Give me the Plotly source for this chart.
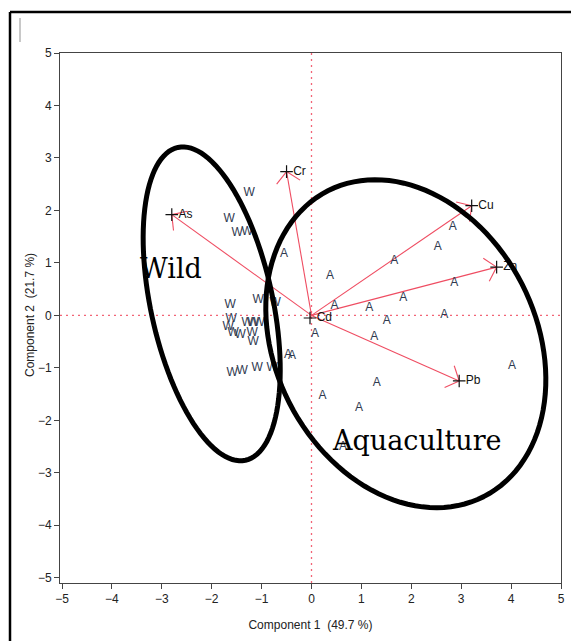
import numpy as np
import plotly.graph_objects as go

# ---------------- data ----------------
wild_pc1 = [-1.25, -1.65, -1.49, -1.29, -1.07, -0.73, -1.63, -1.61, -1.67, -1.57,
            -1.43, -1.29, -1.17, -1.05, -1.19, -1.17, -1.59, -1.39, -1.09, -0.79]
wild_pc2 = [2.34, 1.84, 1.57, 1.59, 0.30, 0.24, 0.20, -0.07, -0.22, -0.33,
            -0.37, -0.14, -0.14, -0.14, -0.33, -0.51, -1.10, -1.06, -1.00, -1.00]

aqua_pc1 = [2.83, 2.53, 1.66, 0.37, 2.86, 1.84, 0.46, 1.16, 2.66, 1.51,
            0.07, 1.26, 4.02, 1.31, 0.22, 0.95, -0.55, -0.47, -0.39, 0.63]
aqua_pc2 = [1.69, 1.31, 1.03, 0.75, 0.61, 0.33, 0.17, 0.14, 0.01, -0.10,
            -0.35, -0.42, -0.96, -1.28, -1.53, -1.77, 1.17, -0.75, -0.77, -2.51]

var_names = ["As", "Cr", "Cu", "Zn", "Pb", "Cd"]
load_pc1 = [-2.80, -0.50, 3.21, 3.71, 2.96, -0.03]
load_pc2 = [1.92, 2.74, 2.09, 0.92, -1.25, -0.05]

tick_vals = [-5, -4, -3, -2, -1, 0, 1, 2, 3, 4, 5]
x_title = "Component 1\u00a0 (49.7 %)"
y_title = "Component 2\u00a0 (21.7 %)"

# ---------------- layout geometry ----------------
# the page body has an 8px margin, so the figure is drawn 8px smaller
OFF = 8
WIN_W, WIN_H = 579, 641
W, H = WIN_W - OFF, WIN_H - OFF
PLOT_L, PLOT_R, PLOT_T, PLOT_B = 60, 561, 53, 583   # window pixels
ML, MR, MT, MB = PLOT_L - OFF, WIN_W - PLOT_R, PLOT_T - OFF, WIN_H - PLOT_B
XR = [-5.04, 5.0]
YR = [-5.1, 5.0]
PW, PH = PLOT_R - PLOT_L, PLOT_B - PLOT_T
SX = PW / (XR[1] - XR[0])
SY = PH / (YR[1] - YR[0])

RED = "#ef4d62"
DOT_RED = "#f26476"
LETTER = "#2f3a50"
FONT = "Liberation Sans, Arial, sans-serif"

fig = go.Figure()

# loading vectors
vx, vy = [], []
for x, y in zip(load_pc1, load_pc2):
    vx += [0, x, None]
    vy += [0, y, None]
fig.add_trace(go.Scatter(x=vx, y=vy, mode="lines", line=dict(color=RED, width=1.1),
                         hoverinfo="skip", showlegend=False))

# open V arrowheads, computed in pixel space
hx, hy = [], []
ARM, ANG = 16.0, np.radians(48)
for x, y in zip(load_pc1, load_pc2):
    px, py = x * SX, y * SY
    n = np.hypot(px, py)
    if n < 10:
        continue
    bx, by = -px / n, -py / n
    for s in (1, -1):
        c, si = np.cos(s * ANG), np.sin(s * ANG)
        ax_ = bx * c - by * si
        ay_ = bx * si + by * c
        hx += [x + ARM * ax_ / SX, x, None]
        hy += [y + ARM * ay_ / SY, y, None]
fig.add_trace(go.Scatter(x=hx, y=hy, mode="lines", line=dict(color=RED, width=1.1),
                         hoverinfo="skip", showlegend=False))

# sample scores as letters
fig.add_trace(go.Scatter(x=wild_pc1, y=wild_pc2, mode="text", text=["W"] * len(wild_pc1),
                         textfont=dict(family=FONT, size=12, color=LETTER),
                         textposition="middle center", name="Wild", showlegend=False))
fig.add_trace(go.Scatter(x=aqua_pc1, y=aqua_pc2, mode="text", text=["A"] * len(aqua_pc1),
                         textfont=dict(family=FONT, size=12, color=LETTER),
                         textposition="middle center", name="Aquaculture", showlegend=False))

# variable tips
fig.add_trace(go.Scatter(x=load_pc1, y=load_pc2, mode="markers+text", text=var_names,
                         textposition="middle right",
                         textfont=dict(family=FONT, size=12, color="#111"),
                         marker=dict(symbol="cross-thin", size=9,
                                     line=dict(color="#111", width=1.2)),
                         showlegend=False))

shapes = []
# dotted reference lines
shapes.append(dict(type="line", x0=0, x1=0, y0=YR[0], y1=YR[1], xref="x", yref="y",
                   line=dict(color=DOT_RED, width=1.3, dash="2px,4px"), layer="below"))
shapes.append(dict(type="line", x0=XR[0], x1=XR[1], y0=0, y1=0, xref="x", yref="y",
                   line=dict(color=DOT_RED, width=1.3, dash="2px,4px"), layer="below"))


def ellipse_path(cx, cy, a_px, b_px, ang_deg):
    al = np.radians(ang_deg)
    t = np.linspace(0, 2 * np.pi, 121)
    ox = a_px * np.cos(t) * np.cos(al) - b_px * np.sin(t) * np.sin(al)
    oy = a_px * np.cos(t) * np.sin(al) + b_px * np.sin(t) * np.cos(al)
    xs = cx + ox / SX
    ys = cy - oy / SY
    return "M " + " L ".join(f"{a:.4f},{b:.4f}" for a, b in zip(xs, ys)) + " Z"


shapes.append(dict(type="path", path=ellipse_path(-2.0, 0.22, 160, 61, 77.8), xref="x", yref="y",
                   line=dict(color="black", width=5), layer="above"))
shapes.append(dict(type="path", path=ellipse_path(1.89, -0.54, 171.6, 130.6, 63), xref="x", yref="y",
                   line=dict(color="black", width=5), layer="above"))


def fx(px):
    return (px - PLOT_L) / PW


def fy(py):
    return (PLOT_B - py) / PH


# outer frame of the figure picture
shapes.append(dict(type="line", xref="paper", yref="paper", x0=fx(10), x1=fx(580), y0=fy(12), y1=fy(12),
                   line=dict(color="black", width=2.5)))
shapes.append(dict(type="line", xref="paper", yref="paper", x0=fx(10), x1=fx(10), y0=fy(12), y1=fy(642),
                   line=dict(color="black", width=2.5)))
shapes.append(dict(type="line", xref="paper", yref="paper", x0=fx(20), x1=fx(20), y0=fy(18), y1=fy(42),
                   line=dict(color="#c8c8c8", width=2)))

annotations = [
    dict(x=-2.82, y=0.89, xref="x", yref="y", text="Wild", showarrow=False,
         font=dict(family="DejaVu Serif, serif", size=27, color="black"),
         xanchor="center", yanchor="middle"),
    dict(x=2.12, y=-2.39, xref="x", yref="y", text="Aquaculture", showarrow=False,
         font=dict(family="DejaVu Serif, serif", size=27, color="black"),
         xanchor="center", yanchor="middle"),
    dict(x=fx(30), y=fy(315), xref="paper", yref="paper", text=y_title, showarrow=False,
         textangle=-90, font=dict(family=FONT, size=12, color="#222"),
         xanchor="center", yanchor="middle"),
]

axis_common = dict(showgrid=False, zeroline=False, showline=True, linecolor="#444", linewidth=1,
                   mirror=True, ticks="outside", ticklen=5, tickcolor="#444",
                   tickvals=tick_vals, tickfont=dict(family=FONT, size=12, color="#222"))

fig.update_layout(
    width=W, height=H,
    margin=dict(l=ML, r=MR, t=MT, b=MB),
    paper_bgcolor="white", plot_bgcolor="white",
    xaxis=dict(range=XR, title=dict(text=x_title, font=dict(family=FONT, size=12, color="#222")),
               **axis_common),
    yaxis=dict(range=YR, **axis_common),
    shapes=shapes,
    annotations=annotations,
    showlegend=False,
)

fig.write_html("out.html")
